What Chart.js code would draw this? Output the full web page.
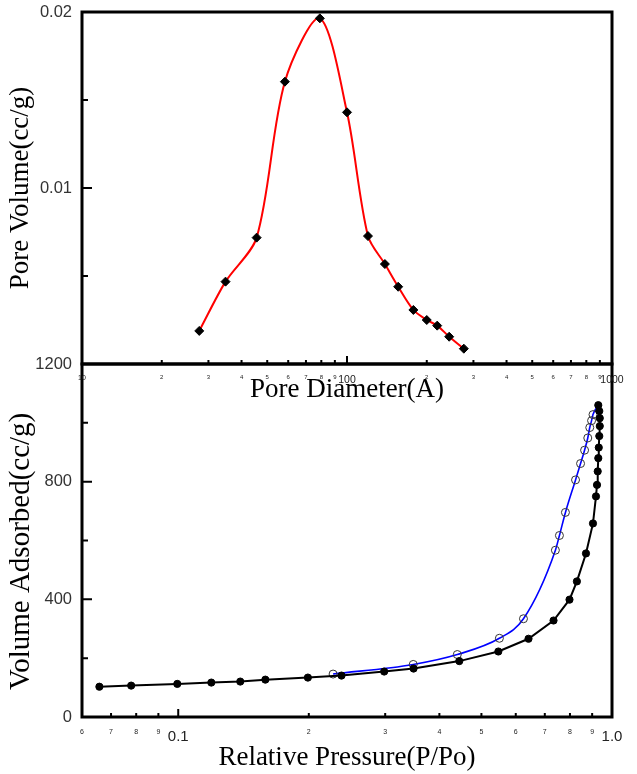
<!DOCTYPE html>
<html>
<head>
<meta charset="utf-8">
<script src="https://cdn.jsdelivr.net/npm/chart.js@4.4.1/dist/chart.umd.min.js"></script>
<style>
  body { margin: 0; background: #fff; }
  #wrap { position: relative; width: 637px; height: 774px; }
  canvas { position: absolute; left: 0; top: 0; }
</style>
</head>
<body>
<div id="wrap">
  <canvas id="iso-chart" width="637" height="774"></canvas>
  <canvas id="pore-chart" width="637" height="774"></canvas>
</div>
<script>
// top panel: pore size distribution
const poreDiameter = [27.7, 34.8, 45.6, 58.3, 79, 100, 120, 139, 156, 178, 200, 219, 243, 276];
const poreVolume = [0.00188, 0.00468, 0.00718, 0.01604, 0.01964, 0.0143, 0.00727, 0.00568, 0.00439, 0.00307, 0.0025, 0.00218, 0.00155, 0.00087];

// bottom panel: isotherm
const adsPressure = [0.0658, 0.0779, 0.0995, 0.1192, 0.139, 0.1588, 0.199, 0.2379, 0.2984, 0.3488, 0.4446, 0.547, 0.642, 0.7332, 0.798, 0.83, 0.871, 0.904, 0.9185, 0.9235, 0.927, 0.9298, 0.9322, 0.9348, 0.9372, 0.9372, 0.9348, 0.9298];
const adsVolume = [103, 106.7, 112.5, 117, 120.4, 127, 134, 140.8, 154.5, 164.7, 190, 222.6, 266, 328, 399, 461, 556, 658, 750, 789, 835, 880, 916, 955, 989, 1016, 1040, 1060];
const desPressure = [0.9298, 0.904, 0.8972, 0.8886, 0.8793, 0.8645, 0.8463, 0.824, 0.781, 0.7565, 0.7405, 0.625, 0.55, 0.4399, 0.3482, 0.2275];
const desVolume = [1060, 1028, 1007.5, 984, 948.5, 907, 861.6, 806, 695.5, 617, 567, 334, 267.6, 212.4, 178.7, 146];

// tick values
const poreXTicks = [10, 20, 30, 40, 50, 60, 70, 80, 90, 100, 200, 300, 400, 500, 600, 700, 800, 900, 1000];
const isoXTicks = [0.06, 0.07, 0.08, 0.09, 0.1, 0.2, 0.3, 0.4, 0.5, 0.6, 0.7, 0.8, 0.9, 1.0];
const poreYLabels = [0.01, 0.02];
const isoYLabels = [0, 400, 800, 1200];

const sansFont = "'Liberation Sans', Arial, sans-serif";
const serifFont = "'Liberation Serif', 'Times New Roman', serif";

function toPoints(xs, ys) {
    return xs.map((x, i) => ({ x: x, y: ys[i] }));
}

function mantissa(v) {
    const exp = Math.floor(Math.log10(v) + 1e-9);
    return Math.round(v / Math.pow(10, exp));
}

function inList(list, v) {
    return list.some(m => Math.abs(m - v) < 1e-9);
}

// inward tick marks + box frame, positions taken from the chart scales
function makeFrame(yMajor) {
    return {
        id: 'frame',
        afterDraw(chart) {
            const { ctx, chartArea: a, scales } = chart;
            ctx.save();
            ctx.strokeStyle = '#000';
            ctx.lineWidth = 2;
            ctx.beginPath();
            scales.x.ticks.forEach(t => {
                const px = scales.x.getPixelForValue(t.value);
                if (px <= a.left + 2 || px >= a.right - 2) return;
                const len = mantissa(t.value) === 1 ? 8 : 4;
                ctx.moveTo(px, a.bottom);
                ctx.lineTo(px, a.bottom - len);
            });
            scales.y.ticks.forEach(t => {
                const py = scales.y.getPixelForValue(t.value);
                if (py <= a.top + 2 || py >= a.bottom - 2) return;
                const len = inList(yMajor, t.value) ? 10 : 6;
                ctx.moveTo(a.left, py);
                ctx.lineTo(a.left + len, py);
            });
            ctx.stroke();
            ctx.lineWidth = 3;
            ctx.strokeRect(a.left, a.top, a.right - a.left, a.bottom - a.top);
            ctx.restore();
        }
    };
}

function fitY(w) {
    return s => { s.width = w; s.paddingTop = 0; s.paddingBottom = 0; };
}
function fitX(h) {
    return s => { s.height = h; s.paddingLeft = 0; s.paddingRight = 0; };
}
function useTicks(values) {
    return s => { s.ticks = values.map(v => ({ value: v })); };
}

// bottom chart (drawn first, underneath)
new Chart(document.getElementById('iso-chart'), {
    type: 'scatter',
    data: {
        datasets: [{
            data: toPoints(adsPressure, adsVolume),
            showLine: true,
            borderColor: '#000',
            borderWidth: 2,
            tension: 0,
            pointStyle: 'circle',
            pointRadius: 3.6,
            pointBackgroundColor: '#000',
            pointBorderColor: '#000',
            pointBorderWidth: 1
        }, {
            data: toPoints(desPressure, desVolume),
            showLine: true,
            borderColor: '#0000ff',
            borderWidth: 1.6,
            cubicInterpolationMode: 'monotone',
            pointStyle: 'circle',
            pointRadius: ctx => ctx.dataIndex === 0 ? 0 : 4,
            pointBackgroundColor: 'rgba(0,0,0,0)',
            pointBorderColor: '#333',
            pointBorderWidth: 1
        }]
    },
    options: {
        responsive: false,
        animation: false,
        layout: { padding: { left: 0, top: 364, right: 25, bottom: 0 } },
        plugins: { legend: { display: false }, tooltip: { enabled: false } },
        scales: {
            x: {
                type: 'logarithmic',
                min: 0.06,
                max: 1.0,
                grid: { display: false, drawTicks: false },
                border: { display: false },
                afterBuildTicks: useTicks(isoXTicks),
                ticks: {
                    autoSkip: false,
                    maxRotation: 0,
                    padding: 11,
                    color: '#222',
                    font: ctx => ({ family: sansFont, size: (ctx.tick && mantissa(ctx.tick.value) === 1) ? 15 : 7 }),
                    callback: v => {
                        const m = mantissa(v);
                        if (m !== 1) return String(m);
                        return v >= 1 ? '1.0' : String(v);
                    }
                },
                title: {
                    display: true,
                    text: 'Relative Pressure(P/Po)',
                    color: '#000',
                    font: { family: serifFont, size: 27 },
                    padding: { top: 0, bottom: 0 }
                },
                afterFit: fitX(57)
            },
            y: {
                min: 0,
                max: 1200,
                grid: { display: false, drawTicks: false },
                border: { display: false },
                ticks: {
                    stepSize: 200,
                    padding: 10,
                    color: '#333',
                    font: { family: sansFont, size: 16.5 },
                    callback: v => inList(isoYLabels, v) ? String(v) : ''
                },
                title: {
                    display: true,
                    text: 'Volume Adsorbed(cc/g)   ',
                    color: '#000',
                    font: { family: serifFont, size: 29 },
                    padding: { top: 4, bottom: 0 }
                },
                afterFit: fitY(82)
            }
        }
    },
    plugins: [makeFrame([400, 800, 1200])]
});

// top chart
new Chart(document.getElementById('pore-chart'), {
    type: 'scatter',
    data: {
        datasets: [{
            data: toPoints(poreDiameter, poreVolume),
            showLine: true,
            borderColor: '#ff0000',
            borderWidth: 2,
            tension: 0.3,
            pointStyle: 'rectRot',
            pointRadius: 4.5,
            pointBackgroundColor: '#000',
            pointBorderColor: '#000',
            pointBorderWidth: 1
        }]
    },
    options: {
        responsive: false,
        animation: false,
        layout: { padding: { left: 0, top: 12, right: 25, bottom: 366 } },
        plugins: { legend: { display: false }, tooltip: { enabled: false } },
        scales: {
            x: {
                type: 'logarithmic',
                min: 10,
                max: 1000,
                grid: { display: false, drawTicks: false },
                border: { display: false },
                afterBuildTicks: useTicks(poreXTicks),
                ticks: {
                    autoSkip: false,
                    maxRotation: 0,
                    padding: 10,
                    color: '#222',
                    font: ctx => {
                        const v = ctx.tick ? ctx.tick.value : 0;
                        const big = mantissa(v) === 1 && v > 10;
                        return { family: sansFont, size: big ? 10.5 : (v === 10 ? 7 : 6) };
                    },
                    callback: v => {
                        const m = mantissa(v);
                        return m === 1 ? String(Math.round(v)) : String(m);
                    }
                },
                title: {
                    display: true,
                    text: 'Pore Diameter(A)',
                    color: '#000',
                    font: { family: serifFont, size: 27 },
                    padding: { top: 0, bottom: 2 }
                },
                afterFit: fitX(44)
            },
            y: {
                min: 0,
                max: 0.02,
                grid: { display: false, drawTicks: false },
                border: { display: false },
                ticks: {
                    stepSize: 0.005,
                    padding: 10,
                    color: '#333',
                    font: { family: sansFont, size: 16.5 },
                    callback: v => inList(poreYLabels, v) ? String(v) : ''
                },
                title: {
                    display: true,
                    text: 'Pore Volume(cc/g)',
                    color: '#000',
                    font: { family: serifFont, size: 27 },
                    padding: { top: 5, bottom: 0 }
                },
                afterFit: fitY(82)
            }
        }
    },
    plugins: [makeFrame([0.01, 0.02])]
});
</script>
</body>
</html>
